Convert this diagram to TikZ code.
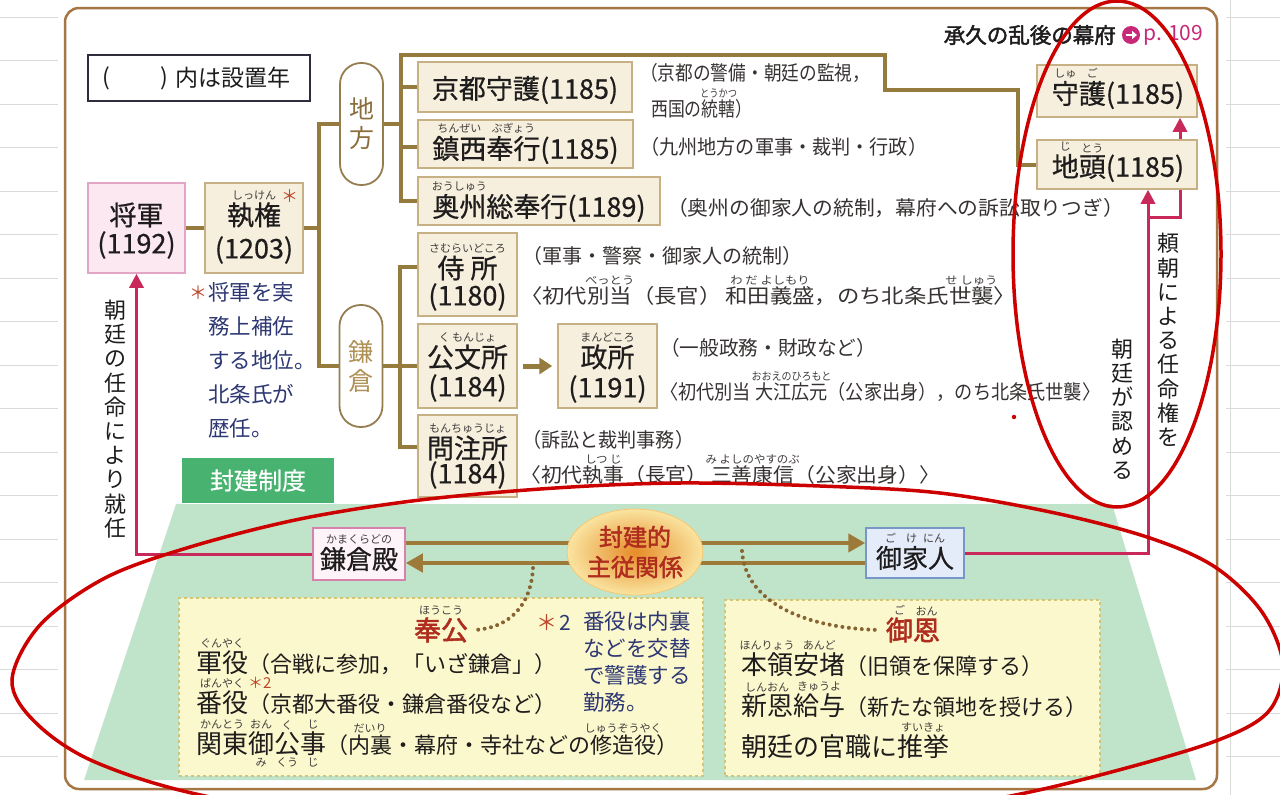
\documentclass[tikz,border=0pt]{standalone}
\usepackage{fontspec}
\usepackage{graphicx}
\setmainfont{Noto Sans CJK JP}
\newfontface\jpm{Noto Sans CJK JP}[FakeBold=0.6]
\newfontface\jpb{Noto Sans CJK JP}[FakeBold=2]
\usetikzlibrary{arrows.meta,shapes.geometric,calc}
\pgfdeclarelayer{bgg}
\pgfdeclarelayer{bgl}
\pgfdeclarelayer{fgl}
\pgfsetlayers{bgg,bgl,main,fgl}
\definecolor{gridc}{RGB}{218,218,218}
\definecolor{framec}{RGB}{165,118,68}
\definecolor{connc}{RGB}{150,123,62}
\definecolor{boxfill}{RGB}{246,239,221}
\definecolor{boxdraw}{RGB}{198,176,132}
\definecolor{pinkfill}{RGB}{251,232,240}
\definecolor{pinkdraw}{RGB}{226,165,195}
\definecolor{pilldraw}{RGB}{150,125,80}
\definecolor{chihoc}{RGB}{140,110,60}
\definecolor{kamac}{RGB}{175,145,85}
\definecolor{textc}{RGB}{30,28,28}
\definecolor{descc}{RGB}{55,50,50}
\definecolor{rubyc}{RGB}{65,60,60}
\definecolor{navyc}{RGB}{45,55,115}
\definecolor{astc}{RGB}{190,70,40}
\definecolor{crimc}{RGB}{200,40,90}
\definecolor{greenc}{RGB}{192,228,202}
\definecolor{greenlab}{RGB}{72,178,112}
\definecolor{yelfill}{RGB}{252,248,205}
\definecolor{yeldraw}{RGB}{214,196,118}
\definecolor{donoc}{RGB}{215,130,170}
\definecolor{donofill}{RGB}{253,243,248}
\definecolor{gokefill}{RGB}{228,236,250}
\definecolor{gokedraw}{RGB}{120,150,200}
\definecolor{ellin}{RGB}{230,140,40}
\definecolor{ellout}{RGB}{250,228,160}
\definecolor{redtext}{RGB}{175,45,30}
\definecolor{magc}{RGB}{200,40,120}
\definecolor{annotc}{RGB}{205,0,0}
\definecolor{dotc}{RGB}{135,100,50}
\definecolor{arrc}{RGB}{158,122,58}
\definecolor{legc}{RGB}{45,45,60}
\newcommand\fsz[1]{\fontsize{#1}{#1}\selectfont}
\newcommand\rubyf{\normalfont\fsz{11}\color{rubyc}}
\newcommand\rby[2]{\leavevmode\setbox0=\hbox{#1}\rlap{\raisebox{\dimexpr\ht0+0.12em\relax}[0pt][0pt]{\makebox[\wd0][c]{\rubyf #2}}}\box0}
\newcommand\rbyd[2]{\leavevmode\setbox0=\hbox{#1}\rlap{\raisebox{\dimexpr-\dp0-0.1em-8pt\relax}[0pt][0pt]{\makebox[\wd0][c]{\rubyf #2}}}\box0}
\begin{document}
\begin{tikzpicture}[x=1pt,y=-1pt,
  every node/.style={inner sep=0pt,text=textc},
  conn/.style={draw=connc,line width=4pt},
  bx/.style={draw=boxdraw,fill=boxfill,line width=1.5pt},
  pill/.style={draw=pilldraw,fill=white,line width=1.8pt,rounded corners=21pt,minimum width=43pt,minimum height=122pt,align=center,font=\fontsize{25}{29}\selectfont},
  lab/.style={font=\jpm\fsz{27}},
  desc/.style={anchor=west,font=\fsz{20},text=descc},
  crim/.style={draw=crimc,line width=3pt,-{Triangle[length=14pt,width=14pt]}},
  brarr/.style={draw=arrc,line width=4.5pt,-{Triangle[length=17pt,width=18pt]}},
  dotline/.style={draw=dotc,line width=4pt,line cap=round,dash pattern=on 0pt off 6.5pt},
  annot/.style={draw=annotc,line width=3.5pt},
  ybox/.style={fill=yelfill,draw=yeldraw,dashed,line width=1.2pt},
  vtext/.style={align=center,font=\fontsize{22}{24.2}\selectfont},
  navy/.style={text=navyc,align=left,anchor=west},
  bline/.style={anchor=west,font=\fsz{26}}
]
\useasboundingbox (0,0) rectangle (1280,795);
\begin{pgfonlayer}{bgg}
  \foreach \k in {0,...,18}{\draw[gridc,line width=0.8pt] (0,{17+43.5*\k}) -- (1280,{17+43.5*\k});}
  \draw[gridc,line width=0.8pt] (1230,0) -- (1230,795);
  \fill[white] (58,0) rectangle (1226,795);
  \draw[framec,line width=2.5pt,rounded corners=14pt] (65,8) rectangle (1217,789);
  \fill[greenc] (176,504) -- (1112,504) -- (1196,780) -- (84,780) -- cycle;
  \node[ybox,minimum width=524pt,minimum height=178pt] (hokobox) at (441,687) {};
  \node[ybox,minimum width=375pt,minimum height=176pt] (goonbox) at (912.5,688) {};
  \node[fill=greenlab,minimum width=152pt,minimum height=45pt,text=white,font=\jpm\fsz{24}] (hokenlab) at (258,480.5) {封建制度};
\end{pgfonlayer}

% boxes
\node[bx,fill=pinkfill,draw=pinkdraw,minimum width=97pt,minimum height=90pt] (shogun) at (136.5,228) {};
\node[bx,minimum width=98pt,minimum height=90pt] (shikken) at (254,228) {};
\node[bx,minimum width=214pt,minimum height=50pt] (kyoto) at (525,87) {};
\node[bx,minimum width=215pt,minimum height=48pt] (chinzei) at (525.5,144) {};
\node[bx,minimum width=242pt,minimum height=48pt] (oshu) at (539,201) {};
\node[bx,minimum width=160pt,minimum height=52pt] (shugo) at (1117,91) {};
\node[bx,minimum width=160pt,minimum height=49pt] (jito) at (1117,164.5) {};
\node[bx,minimum width=99pt,minimum height=83pt] (samurai) at (467.5,274.5) {};
\node[bx,minimum width=99pt,minimum height=84pt] (kumon) at (467.5,366) {};
\node[bx,minimum width=99pt,minimum height=84pt] (mandokoro) at (607.5,366) {};
\node[bx,minimum width=99pt,minimum height=82pt] (monchu) at (467.5,456) {};
\node[pill,text=chihoc] (chiho) at (361.5,124) {地\\方};
\node[pill,text=kamac] (kama) at (361,366) {鎌\\倉};
\node[draw=legc,line width=1.8pt,minimum width=222pt,minimum height=46pt] (legend) at (199,78) {};
\node[draw=donoc,fill=donofill,line width=1.5pt,minimum width=92pt,minimum height=52pt] (dono) at (359,554) {};
\node[draw=gokedraw,fill=gokefill,line width=1.5pt,minimum width=98pt,minimum height=50pt] (goke) at (915,553) {};
\node[ellipse,shade,inner color=ellin,outer color=ellout,draw=ellout!70!orange,line width=0.8pt,minimum width=130pt,minimum height=86pt,align=center,text=redtext,font=\jpb\fontsize{24}{30}\selectfont] (hoken) at (635,552) {封建的\\主従関係};

% legend text
\node[font=\fsz{23}] (lg1) at (106,78) {(};
\node[font=\fsz{23}] (lg2) at (164,78) {)};
\node[anchor=west,font=\fsz{23}] (lg3) at (175,78) {内は設置年};

% box texts
\node[lab] (tshogun) at (136.5,215) {将軍};
\node[lab] (tshogun2) at (136.5,245) {(1192)};
\node[lab] (tshikken) at (254,215) {\rby{執権}{しっけん}\rlap{\raisebox{0.85em}[0pt][0pt]{\normalfont\fsz{17}\color{astc}＊}}};
\node[lab] (tshikken2) at (254,250) {(1203)};
\node[lab] (tkyoto) at (525,90) {京都守護(1185)};
\node[lab] (tchinzei) at (525.5,150) {\rby{鎮西}{ちんぜい}\rby{奉行}{ぶぎょう}(1185)};
\node[lab] (toshu) at (539,208) {\rby{奥州}{おうしゅう}総奉行(1189)};
\node[lab] (tshugo) at (1118,95) {\rby{守}{しゅ}\rby{護}{ご}(1185)};
\node[lab] (tjito) at (1118,168) {\rby{地}{じ}\rby{頭}{とう}(1185)};
\node[lab] (tsamurai) at (467.5,268) {\rby{侍\hspace{6pt}所}{さむらいどころ}};
\node[lab] (tsamurai2) at (467.5,297) {(1180)};
\node[lab] (tkumon) at (467.5,357) {\rby{公文所}{く もんじょ}};
\node[lab] (tkumon2) at (467.5,388) {(1184)};
\node[lab] (tmando) at (607.5,357) {\rby{政所}{まんどころ}};
\node[lab] (tmando2) at (607.5,389) {(1191)};
\node[lab] (tmonchu) at (467.5,448) {\rby{問注所}{もんちゅうじょ}};
\node[lab] (tmonchu2) at (467.5,475) {(1184)};
\node[font=\jpm\fsz{26}] (tdono) at (359,559) {\rby{鎌倉殿}{かまくらどの}};
\node[font=\jpm\fsz{26}] (tgoke) at (915,558) {\rby{御家人}{ご\hspace{10pt}け\hspace{6pt}にん}};

% descriptions
\node[desc] (d1) at (640,73) {\resizebox{230pt}{\height}{（京都の警備・朝廷の監視，}};
\node[desc] (d1b) at (651,109) {\resizebox{101pt}{\height}{西国の\rby{統轄}{とうかつ}）}};
\node[desc] (d2) at (640,147) {\resizebox{287pt}{\height}{（九州地方の軍事・裁判・行政）}};
\node[desc] (d3) at (667,208) {\resizebox{457pt}{\height}{（奥州の御家人の統制，幕府への訴訟取りつぎ）}};
\node[desc] (d4) at (522,256) {\resizebox{280pt}{\height}{（軍事・警察・御家人の統制）}};
\node[desc] (d5) at (520,296) {\resizebox{496pt}{\height}{〈初代\rby{別当}{べっとう}（長官）\,\rby{和田義盛}{わ だ よしもり}，のち北条氏\rby{世襲}{せ しゅう}〉}};
\node[desc] (d6) at (660,348) {\resizebox{216pt}{\height}{（一般政務・財政など）}};
\node[desc] (d7) at (660,392) {\resizebox{440pt}{\height}{〈初代別当 \rby{大江広元}{おおえのひろもと}（公家出身），のち北条氏世襲〉}};
\node[desc] (d8) at (522,440) {\resizebox{172pt}{\height}{（訴訟と裁判事務）}};
\node[desc] (d9) at (520,475) {\resizebox{420pt}{\height}{〈初代\rby{執事}{しつ じ}（長官）\,\rby{三善康信}{み よしのやすのぶ}（公家出身）〉}};

% notes
\node[text=astc,font=\fsz{18}] (ast1) at (198,293) {＊};
\node[navy,font=\fontsize{21.5}{34}\selectfont] (note1) at (208,360) {将軍を実\\務上補佐\\する地位。\\北条氏が\\歴任。};
\node[vtext] (v1) at (115,419) {朝\\廷\\の\\任\\命\\に\\よ\\り\\就\\任};
\node[vtext] (v2) at (1168,340) {頼\\朝\\に\\よ\\る\\任\\命\\権\\を};
\node[vtext] (v3) at (1122,409) {朝\\廷\\が\\認\\め\\る};

% title
\node[anchor=east,font=\jpb\fsz{21.5}] (title) at (1116,35) {承久の乱後の幕府};
\node[circle,fill=magc,minimum size=18pt] (parr) at (1131,35) {};
\draw[white,line width=2.2pt,-{Triangle[length=5pt,width=8pt]}] ([xshift=-5.5pt]parr.center) -- ([xshift=6pt]parr.center);
\node[anchor=west,font=\fsz{21},text=magc] (page) at (1143,35) {p. 109};

% bottom boxes
\node[font=\jpb\fsz{27},text=redtext] (hoko) at (441,630) {\rby{奉公}{ほうこう}};
\node[anchor=west,font=\fsz{21}] (ast2) at (536,623) {\textcolor{astc}{＊}\hspace{2pt}\textcolor{navyc}{2}};
\node[navy,font=\fontsize{21.5}{27}\selectfont] (note2) at (583,661.5) {番役は内裏\\などを交替\\で警護する\\勤務。};
\node[bline] (l1) at (196,663) {\rby{軍役}{ぐんやく}{\fsz{22}（合戦に参加，「いざ鎌倉」）}};
\node[bline] (l2) at (196,703) {\rby{番役}{ばんやく}\rlap{\raisebox{0.95em}[0pt][0pt]{\normalfont\fsz{15}\color{astc}＊2}}{\fsz{22}（京都大番役・鎌倉番役など）}};
\node[bline] (l3) at (196,744) {\rby{関東}{かんとう}\rby{\rbyd{御}{み}}{おん}\rby{\rbyd{公}{くう}}{く}\rby{\rbyd{事}{じ}}{じ}{\fsz{22}（\rby{内裏}{だいり}・幕府・寺社などの\rby{修造役}{しゅうぞうやく}）}};
\node[font=\jpb\fsz{27},text=redtext] (goon) at (913,630) {\rby{御}{ご}\rby{恩}{おん}};
\node[bline] (r1) at (741,665) {\rby{本領}{ほんりょう}\rby{安堵}{あんど}{\fsz{22}（旧領を保障する）}};
\node[bline] (r2) at (741,706) {\rby{新恩}{しんおん}\rby{給与}{きゅうよ}{\fsz{22}（新たな領地を授ける）}};
\node[bline] (r3) at (741,747) {朝廷の官職に\rby{推挙}{すいきょ}};

\begin{pgfonlayer}{bgl}
  \draw[conn] (shogun.east) -- (shikken.west);
  \draw[conn] (shikken.east) -- ++(15,0) |- (chiho.west);
  \draw[conn] (shikken.east) -- ++(15,0) |- (kama.west);
  \coordinate (tr2) at (401,55);
  \coordinate (bendA) at (885,55);
  \coordinate (bendB) at (1018,90);
  \draw[conn] (chiho.east) -- (chiho.east -| tr2);
  \draw[conn] (oshu.west) -| (tr2) -- (bendA) |- (bendB) |- (jito.west);
  \draw[conn] (kyoto.west) -- (kyoto.west -| tr2);
  \draw[conn] ([yshift=-3pt]chinzei.west) -- ([yshift=-3pt]chinzei.west -| tr2);
  \draw[conn] ([yshift=8pt]samurai.west) -- ++(-17,0) |- ([yshift=9pt]monchu.west);
  \draw[conn] (kama.east) -- (kumon.west);
  \draw[draw=connc,line width=5pt,-{Triangle[length=13pt,width=16pt]}] ([xshift=5pt]kumon.east) -- ([xshift=-5pt]mandokoro.west);
  \draw[crim] (dono.west) -| (shogun.south);
  \draw[crim] (goke.east) -| ([xshift=31pt]jito.south);
  \coordinate (rj) at (1148,217);
  \draw[crim] (rj) -| ([xshift=63pt]shugo.south);
  \draw[brarr] ([yshift=11pt]dono.east) -- ([yshift=10pt]goke.west);
  \draw[brarr] ([yshift=-10pt]goke.west) -- ([yshift=-9pt]dono.east);
  \coordinate (dl) at (533,568);
  \coordinate (dr) at (742,551);
  \draw[dotline] (dl) .. controls (531,605) and (510,628) .. ([xshift=6pt]hoko.east);
  \draw[dotline] (dr) .. controls (745,600) and (800,628) .. ([xshift=-6pt]goon.west);
\end{pgfonlayer}

\begin{pgfonlayer}{fgl}
  \draw[annot] (1117,254) ellipse [x radius=104, y radius=253];
  \fill[annotc] (1014,417) circle [radius=2.2];
  \draw[annot] plot[smooth cycle,tension=0.55] coordinates {(12,680) (40,625) (105,578) (190,547) (300,519) (420,500) (555,488) (680,483) (820,486) (940,493) (1055,513) (1150,538) (1215,567) (1262,612) (1283,665) (1268,712) (1213,742) (1100,775) (1000,798) (850,822) (640,835) (420,828) (210,797) (95,762) (35,722)};
\end{pgfonlayer}
\end{tikzpicture}
\end{document}
